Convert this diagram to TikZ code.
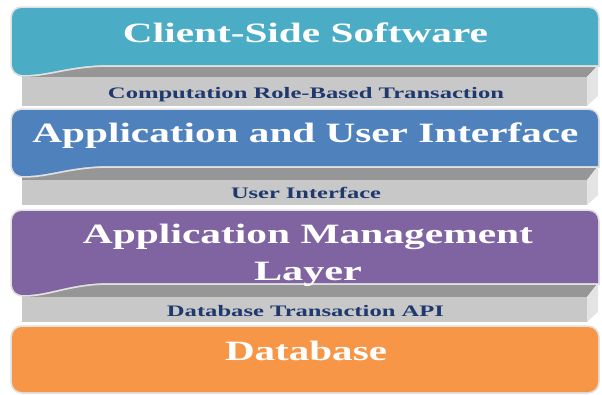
\documentclass[tikz,border=0pt]{standalone}
\usepackage{fontspec}
\setmainfont{Liberation Serif}
\usepackage{graphicx}
\definecolor{cteal}{RGB}{75,172,198}
\definecolor{cblue}{RGB}{79,129,189}
\definecolor{cpurple}{RGB}{128,100,162}
\definecolor{corange}{RGB}{247,150,70}
\definecolor{glight}{RGB}{200,200,200}
\definecolor{gdark}{RGB}{150,150,150}
\definecolor{gside}{RGB}{228,228,228}
\definecolor{navytxt}{RGB}{31,56,110}
\definecolor{halo}{RGB}{225,225,225}
\newcommand\wavelayer[4]{%
  \path[draw=halo, line width=3.5pt, fill=#1]
    (22,#2) -- (588,#2) .. controls (594,#2) and (598,#2+4) .. (598,#2+10)
    -- (598,#3) -- (110,#3) .. controls (70,#3) and (50,#4) .. (24,#4)
    .. controls (16,#4) and (12,#4-4) .. (12,#4-12) -- (12,#2+10)
    .. controls (12,#2+4) and (16,#2) .. (22,#2) -- cycle;
  \fill[#1]
    (22,#2) -- (588,#2) .. controls (594,#2) and (598,#2+4) .. (598,#2+10)
    -- (598,#3) -- (110,#3) .. controls (70,#3) and (50,#4) .. (24,#4)
    .. controls (16,#4) and (12,#4-4) .. (12,#4-12) -- (12,#2+10)
    .. controls (12,#2+4) and (16,#2) .. (22,#2) -- cycle;}
% gray band: #1 top of dark face, #2 front top, #3 front bottom
\newcommand\grayband[3]{%
  \fill[gdark] (22,#1) -- (598,#1) -- (587,#2) -- (22,#2) -- cycle;
  \fill[glight] (22,#2) rectangle (587,#3);
  \fill[gside] (587,#2) -- (598,#1) -- (598,#3-10) -- (587,#3) -- cycle;}
\tikzset{
  bigtxt/.style={anchor=base, inner sep=0pt, text=white,
    font=\fontsize{28}{30}\selectfont\bfseries},
  smalltxt/.style={anchor=base, inner sep=0pt, text=navytxt,
    font=\fontsize{16}{18}\selectfont\bfseries}
}
\begin{document}
\begin{tikzpicture}[x=1pt,y=-1pt]
\useasboundingbox (0,0) rectangle (602,394);
\fill[white] (0,0) rectangle (602,394);
% gray bands (drawn first, covered partly by layers above)
\grayband{65}{77}{106}
\grayband{166}{180}{205}
\grayband{283}{297}{322}
% layers
\wavelayer{cteal}{8}{65}{75}
\wavelayer{cblue}{110}{166}{176}
\wavelayer{cpurple}{211}{283}{295}
\path[draw=halo, line width=3.5pt, fill=corange, rounded corners=10pt] (12,327) rectangle (598,392);
\fill[corange, rounded corners=10pt] (12,327) rectangle (598,392);
% texts
\node[bigtxt] (client) at (305.5,42) {\resizebox{365pt}{\height}{Client-Side Software}};
\node[smalltxt] (crbt) at (306,98) {\resizebox{396pt}{\height}{Computation Role-Based Transaction}};
\node[bigtxt] (appui) at (305.5,142) {\resizebox{546pt}{\height}{Application and User Interface}};
\node[smalltxt] (ui) at (306,198) {\resizebox{150pt}{\height}{User Interface}};
\node[bigtxt] (appm) at (308,243) {\resizebox{450pt}{\height}{Application Management}};
\node[bigtxt] (layer) at (308,280) {\resizebox{108pt}{\height}{Layer}};
\node[smalltxt] (dbapi) at (305.5,316) {\resizebox{277pt}{\height}{Database Transaction API}};
\node[bigtxt] (db) at (306,360) {\resizebox{162pt}{\height}{Database}};
\end{tikzpicture}
\end{document}
